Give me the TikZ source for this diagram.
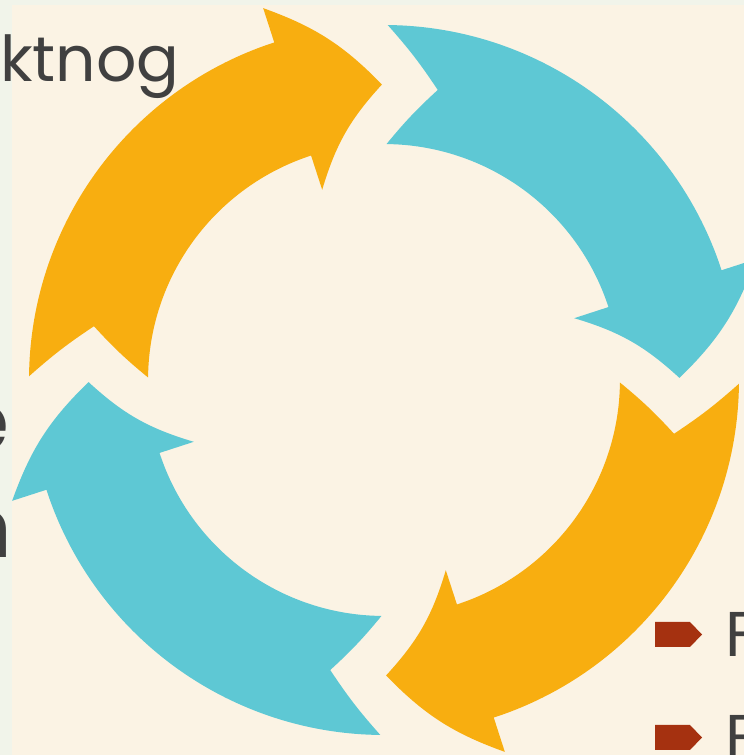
\documentclass[tikz,border=0pt]{standalone}
\usepackage{fontspec}
\setmainfont{Poppins}
\definecolor{cream}{HTML}{FBF3E4}
\definecolor{strip}{HTML}{F1F4EA}
\definecolor{arrorange}{HTML}{F8AE10}
\definecolor{arrteal}{HTML}{5EC8D4}
\definecolor{bulletred}{HTML}{A53110}
\definecolor{textgray}{HTML}{404040}
\tikzset{
  bodytext/.style={font=\fontsize{36}{40}\selectfont, text=textgray, inner sep=0pt, outer sep=0pt},
  bigtext/.style={font=\fontsize{48}{54}\selectfont, text=textgray, inner sep=0pt, outer sep=0pt},
  bulletshape/.style={fill=bulletred, draw=none}
}
\begin{document}
\begin{tikzpicture}[x=0.02cm,y=0.02cm]
\useasboundingbox (0,0) rectangle (744,755);
% background
\fill[strip] (0,0) rectangle (744,755);
\fill[cream] (12,0) rectangle (744,750);
% text at left
\node[bodytext, anchor=base west] (t1) at (0,673) {ktnog};
\node[bigtext, anchor=base east] (t2) at (10,303) {e};
\node[bigtext, anchor=base east] (t3) at (12,197) {n};
% circular arrows
\begin{scope}[shift={(384,375)}]
\foreach \t/\c in {180/arrorange, 90/arrteal, 0/arrorange, -90/arrteal}{
  \pgfmathsetmacro{\ta}{\t-0.6}
  \pgfmathsetmacro{\tb}{\t-72}
  \pgfmathsetmacro{\tc}{\t-89.6}
  \pgfmathsetmacro{\tn}{\t-10.5}
  \fill[\c] (\ta:355) arc[start angle=\ta, end angle=\tb, radius=7.1cm]
     -- (\tb:391) to[bend left=13] (\tc:295.5) to[bend right=13] (\tb:200) -- (\tb:236)
     arc[start angle=\tb, end angle=\ta, radius=4.72cm]
     to[bend left=4] (\tn:295) to[bend right=4] (\ta:355) -- cycle;
}
\end{scope}
% bullets
\fill[bulletshape] (655,133) -- (690,133) -- (702,120.5) -- (690,108) -- (655,108) -- cycle;
\fill[bulletshape] (655,30) -- (690,30) -- (702,17.5) -- (690,5) -- (655,5) -- cycle;
\node[bodytext, anchor=base west] (f1) at (725,98) {F};
\node[bodytext, anchor=base west] (f2) at (725,-5) {F};
\end{tikzpicture}
\end{document}
